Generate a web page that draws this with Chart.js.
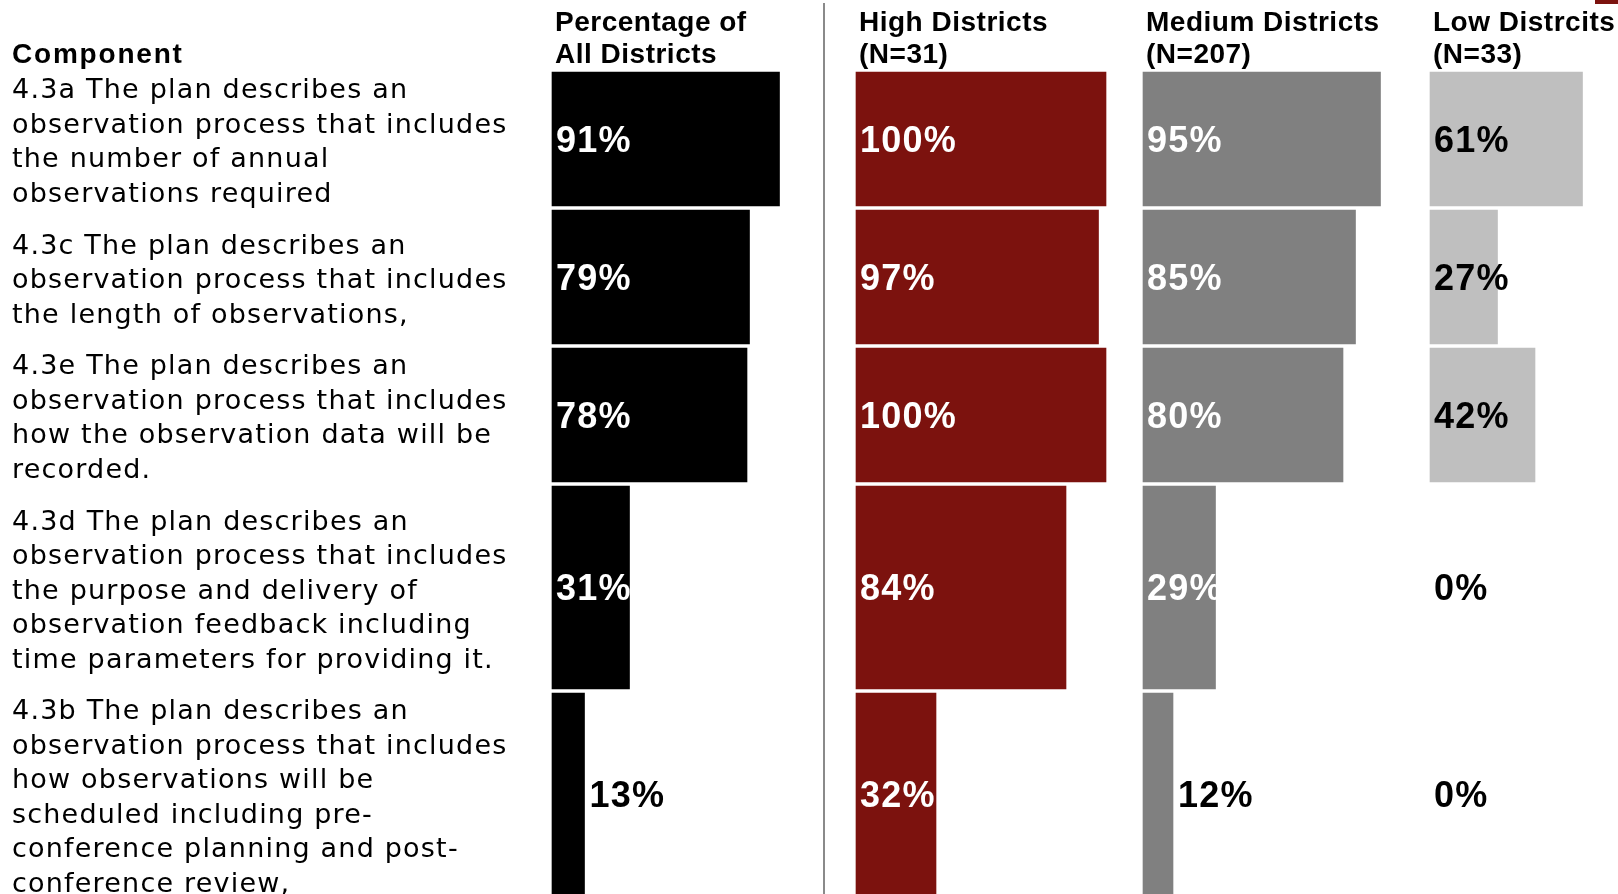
<!DOCTYPE html>
<html>
<head>
<meta charset="utf-8">
<script src="https://cdn.jsdelivr.net/npm/chart.js@4.4.1/dist/chart.umd.min.js"></script>
<style>
  html, body { margin: 0; padding: 0; background: #ffffff; }
  #wrap { position: relative; width: 1618px; height: 894px; overflow: hidden; background: #ffffff; }
  #c { position: absolute; left: 0; top: 0; }
  .hdr {
    position: absolute;
    font-family: "Liberation Sans", Arial, sans-serif;
    font-weight: bold;
    font-size: 28px;
    line-height: 32px;
    color: #000000;
    letter-spacing: 0.5px;
    white-space: nowrap;
  }
  #divider { position: absolute; left: 823px; top: 3px; width: 2px; height: 891px; background: #8a8a8a; }
  #corner { position: absolute; left: 1595px; top: 0; width: 23px; height: 4px; background: #7c120e; }
</style>
</head>
<body>
<div id="wrap">
  <canvas id="c" width="1618" height="894"></canvas>
  <div id="divider"></div>
  <div id="corner"></div>
</div>
<script>
// ---- Data ----
const componentHeader = "Component";

const components = [
  ["4.3a The plan describes an", "observation process that includes", "the number of annual", "observations required"],
  ["4.3c The plan describes an", "observation process that includes", "the length of observations,"],
  ["4.3e The plan describes an", "observation process that includes", "how the observation data will be", "recorded."],
  ["4.3d The plan describes an", "observation process that includes", "the purpose and delivery of", "observation feedback including", "time parameters for providing it."],
  ["4.3b The plan describes an", "observation process that includes", "how observations will be", "scheduled including pre-", "conference planning and post-", "conference review,"]
];

const columnHeaders = [
  ["Percentage of", "All Districts"],
  ["High Districts", "(N=31)"],
  ["Medium Districts", "(N=207)"],
  ["Low Distrcits", "(N=33)"]
];

const allDistricts    = [91, 79, 78, 31, 13];
const highDistricts   = [100, 97, 100, 84, 32];
const mediumDistricts = [95, 85, 80, 29, 12];
const lowDistricts    = [61, 27, 42, 0, 0];

// ---- Layout and style ----
const W = 1618, H = 894;
const TEXT_LEFT = 12;                        // left edge of the component text
const TEXT_SHIFT = 4;                        // optical centring of the text block
const PANEL_LEFT = [552, 856, 1143, 1430];   // where each column's 0% sits
const PX_PER_PCT = 2.5;
const ROW_TOP = 70;
const LINE_H = 34.5;
const ROW_LINES = [4, 4, 4, 6, 6];           // table row heights, in text lines
const ROW_GAP = 4;

const series = [allDistricts, highDistricts, mediumDistricts, lowDistricts];
const seriesColors = ["#000000", "#7c120e", "#808080", "#bfbfbf"];
const labelColors = ["#ffffff", "#ffffff", "#ffffff", "#000000"];

const rowHeights = ROW_LINES.map(n => n * LINE_H);
const rowCenters = [];
{
  let acc = ROW_TOP;
  rowHeights.forEach(h => { rowCenters.push(acc + h / 2); acc += h; });
}

// ---- Column headers ----
const wrap = document.getElementById("wrap");
function addHeader(lines, left, top, spacing) {
  const d = document.createElement("div");
  d.className = "hdr";
  d.style.left = left + "px";
  d.style.top = top + "px";
  if (spacing) d.style.letterSpacing = spacing;
  d.innerHTML = lines.join("<br>");
  wrap.appendChild(d);
}
addHeader([componentHeader], TEXT_LEFT, 38.3, "1.8px");
columnHeaders.forEach((lines, k) => addHeader(lines, PANEL_LEFT[k] + 3, 6.3));

// ---- Datasets: one bar per column per row, each row with its own thickness ----
const datasets = [];
series.forEach((vals, k) => {
  vals.forEach((v, i) => {
    datasets.push({
      label: columnHeaders[k].join(" "),
      panel: k,
      row: i,
      xAxisID: "x" + k,
      yAxisID: "y",
      data: [{ x: v, y: rowCenters[i] }],
      backgroundColor: seriesColors[k],
      borderWidth: 0,
      inflateAmount: v === 0 ? 0 : "auto",
      barThickness: rowHeights[i] - ROW_GAP,
      stack: "rows"
    });
  });
});

// one horizontal value axis per column, all sharing the same % scale
const scales = {};
PANEL_LEFT.forEach((L, k) => {
  scales["x" + k] = {
    type: "linear",
    axis: "x",
    display: false,
    stacked: false,
    min: -L / PX_PER_PCT,
    max: (W - L) / PX_PER_PCT
  };
});
scales.y = {
  type: "linear",
  display: false,
  reverse: true,
  offset: false,
  min: 0,
  max: H
};

// component text, one block per row, centred on the row
const componentLabels = {
  id: "componentLabels",
  afterDraw(chart) {
    const ctx = chart.ctx;
    const y = chart.scales.y;
    ctx.save();
    ctx.letterSpacing = "1.2px";
    ctx.font = "27px 'DejaVu Sans', sans-serif";
    ctx.fillStyle = "#000000";
    ctx.textAlign = "left";
    ctx.textBaseline = "middle";
    components.forEach((lines, i) => {
      const c = y.getPixelForValue(rowCenters[i]) + TEXT_SHIFT;
      lines.forEach((line, j) => {
        ctx.fillText(line, TEXT_LEFT, c + (j - (lines.length - 1) / 2) * LINE_H);
      });
    });
    ctx.restore();
  }
};

const LABEL_SIZE = 36;
const valueLabels = {
  id: "valueLabels",
  afterDatasetsDraw(chart) {
    const ctx = chart.ctx;
    ctx.save();
    ctx.letterSpacing = "1.2px";
    ctx.font = "bold " + LABEL_SIZE + "px 'Liberation Sans', Arial, sans-serif";
    ctx.textAlign = "left";
    ctx.textBaseline = "alphabetic";
    chart.data.datasets.forEach((ds, di) => {
      const meta = chart.getDatasetMeta(di);
      meta.data.forEach((bar, j) => {
        const v = ds.data[j].x;
        const outside = v > 0 && v < 20;
        const x = outside ? bar.x + 5 : bar.base + 4;
        ctx.fillStyle = outside ? "#000000" : labelColors[ds.panel];
        ctx.fillText(v + "%", x, bar.y + LABEL_SIZE * 0.358);
      });
    });
    ctx.restore();
  }
};

new Chart(document.getElementById("c"), {
  type: "bar",
  data: { datasets },
  options: {
    indexAxis: "y",
    responsive: false,
    devicePixelRatio: 1,
    animation: false,
    layout: { padding: 0 },
    scales,
    plugins: {
      legend: { display: false },
      tooltip: { enabled: false },
      title: { display: false }
    }
  },
  plugins: [componentLabels, valueLabels]
});
</script>
</body>
</html>
